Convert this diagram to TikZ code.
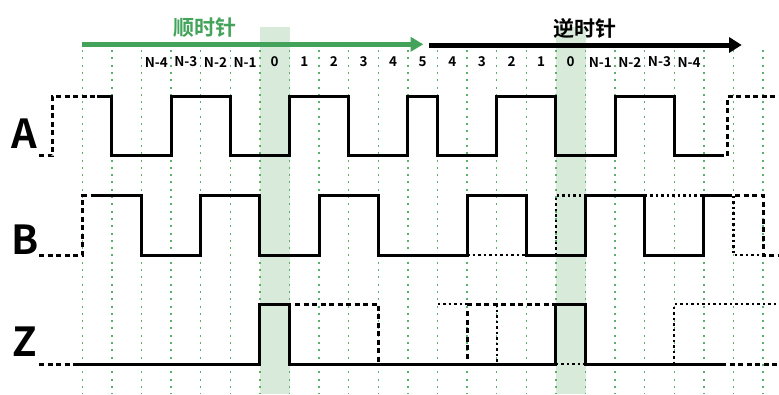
\documentclass[tikz,border=0pt]{standalone}
\usepackage{fontspec}
\setmainfont{Noto Sans CJK SC}[BoldFont={Noto Sans CJK SC Bold}]
\usetikzlibrary{arrows.meta}
\definecolor{arrowgreen}{RGB}{67,163,90}
\definecolor{gridgreen}{RGB}{90,178,105}
\definecolor{bandgreen}{RGB}{216,235,219}
\tikzset{
  griddot/.style={gridgreen,line width=1.5pt,dash pattern=on 2pt off 5.3pt},
  sig/.style={line width=3pt,line join=miter},
  sigdash/.style={line width=3pt,dash pattern=on 5pt off 3.5pt},
  sigdot/.style={line width=2.2pt,dash pattern=on 2.5pt off 3pt},
  cell/.style={font=\bfseries\fontsize{13.5}{14}\selectfont,inner sep=0pt},
  chlab/.style={font=\bfseries\fontsize{40}{40}\selectfont,inner sep=0pt,anchor=base},
  dirlab/.style={font=\bfseries\fontsize{21}{22}\selectfont,inner sep=0pt}
}
\begin{document}
\begin{tikzpicture}[x=1pt,y=-1pt]
\useasboundingbox (0,0) rectangle (779,394);
% shaded bands
\fill[bandgreen] (259.9,26.7) rectangle (289.5,394);
\fill[bandgreen] (555.9,26.7) rectangle (585.5,394);
% grid
\foreach \i in {0,...,23}
  \draw[griddot] ({82.3+29.6*\i},50) -- ({82.3+29.6*\i},394);
% direction arrows
\coordinate (gs) at (82.3,44.3);
\coordinate (ge) at (423.3,44.3);
\coordinate (bs) at (429.3,45);
\coordinate (be) at (741.7,45);
\draw[arrowgreen,line width=4.5pt,-{Triangle[length=12.6pt,width=14pt]}] (gs) -- (ge);
\draw[black,line width=5pt,-{Triangle[length=12.6pt,width=15pt]}] (bs) -- (be);
\node[dirlab,text=arrowgreen] (cw) at (205,28) {顺时针};
\node[dirlab] (ccw) at (585,28) {逆时针};
% cell labels
\foreach \i/\t in {2/N-4,3/N-3,4/N-2,5/N-1,6/0,7/1,8/2,9/3,10/4,11/5,12/4,13/3,14/2,15/1,16/0,17/N-1,18/N-2,19/N-3,20/N-4}
  \node[cell] (c\i) at ({82.3+29.6*\i+14.8},62) {\t};
% channel labels
\node[chlab] (la) at (24.5,148) {A};
\node[chlab] (lb) at (25,254) {B};
\node[chlab] (lz) at (25,356) {Z};
% A signal
\draw[sigdash] (39,155.7) -- (52.3,155.7) -- (52.3,96.3) -- (97,96.3);
\draw[sig] (97,96.3) -- (111.9,96.3) -- (111.9,155.7) -- (171.1,155.7) -- (171.1,96.3) -- (230.3,96.3) -- (230.3,155.7) -- (289.5,155.7) -- (289.5,96.3) -- (348.7,96.3) -- (348.7,155.7) -- (407.9,155.7) -- (407.9,96.3) -- (437.5,96.3) -- (437.5,155.7) -- (496.7,155.7) -- (496.7,96.3) -- (555.9,96.3) -- (555.9,155.7) -- (615.1,155.7) -- (615.1,96.3) -- (674.3,96.3) -- (674.3,155.7) -- (719,155.7);
\draw[sigdash] (719,155.7) -- (727.3,155.7) -- (727.3,96.3) -- (779,96.3);
% B signal
\draw[sigdash] (39,255) -- (82.3,255) -- (82.3,195.5) -- (88,195.5);
\draw[sig] (90.7,195.5) -- (141.5,195.5) -- (141.5,255) -- (200.7,255) -- (200.7,195.5) -- (259.9,195.5) -- (259.9,255) -- (319.1,255) -- (319.1,195.5) -- (378.3,195.5) -- (378.3,255) -- (467.1,255) -- (467.1,195.5) -- (526.3,195.5) -- (526.3,255) -- (585.5,255) -- (585.5,195.5) -- (644.7,195.5) -- (644.7,255) -- (703.9,255) -- (703.9,195.5) -- (726.7,195.5);
\draw[sigdash] (726.7,195.5) -- (763.1,195.5) -- (763.1,255) -- (779,255);
\draw[sigdot] (467.1,255) -- (526.3,255);
\draw[sigdot] (555.9,255) -- (555.9,195.5) -- (585.5,195.5);
\draw[sigdot] (644.7,195.5) -- (703.9,195.5);
\draw[sigdot] (733.5,195.5) -- (733.5,255) -- (763.1,255);
% Z signal
\draw[sigdash] (39,364) -- (78,364);
\draw[sig] (78,364) -- (259.9,364) -- (259.9,304) -- (289.5,304) -- (289.5,364) -- (555.9,364) -- (555.9,304) -- (585.5,304) -- (585.5,364) -- (721,364);
\draw[sigdash] (721,364) -- (779,364);
\draw[sigdash] (295,304) -- (378.3,304) -- (378.3,364);
\draw[sigdash] (467.1,304) -- (555.9,304);
\draw[sigdash] (467.1,311) -- (467.1,360);
\draw[sigdot] (437.5,304) -- (467.1,304);
\draw[sigdot] (496.7,304) -- (496.7,364);
\draw[sigdot] (555.9,364) -- (585.5,364);
\draw[sigdot] (674.3,364) -- (674.3,304) -- (779,304);
\end{tikzpicture}
\end{document}
